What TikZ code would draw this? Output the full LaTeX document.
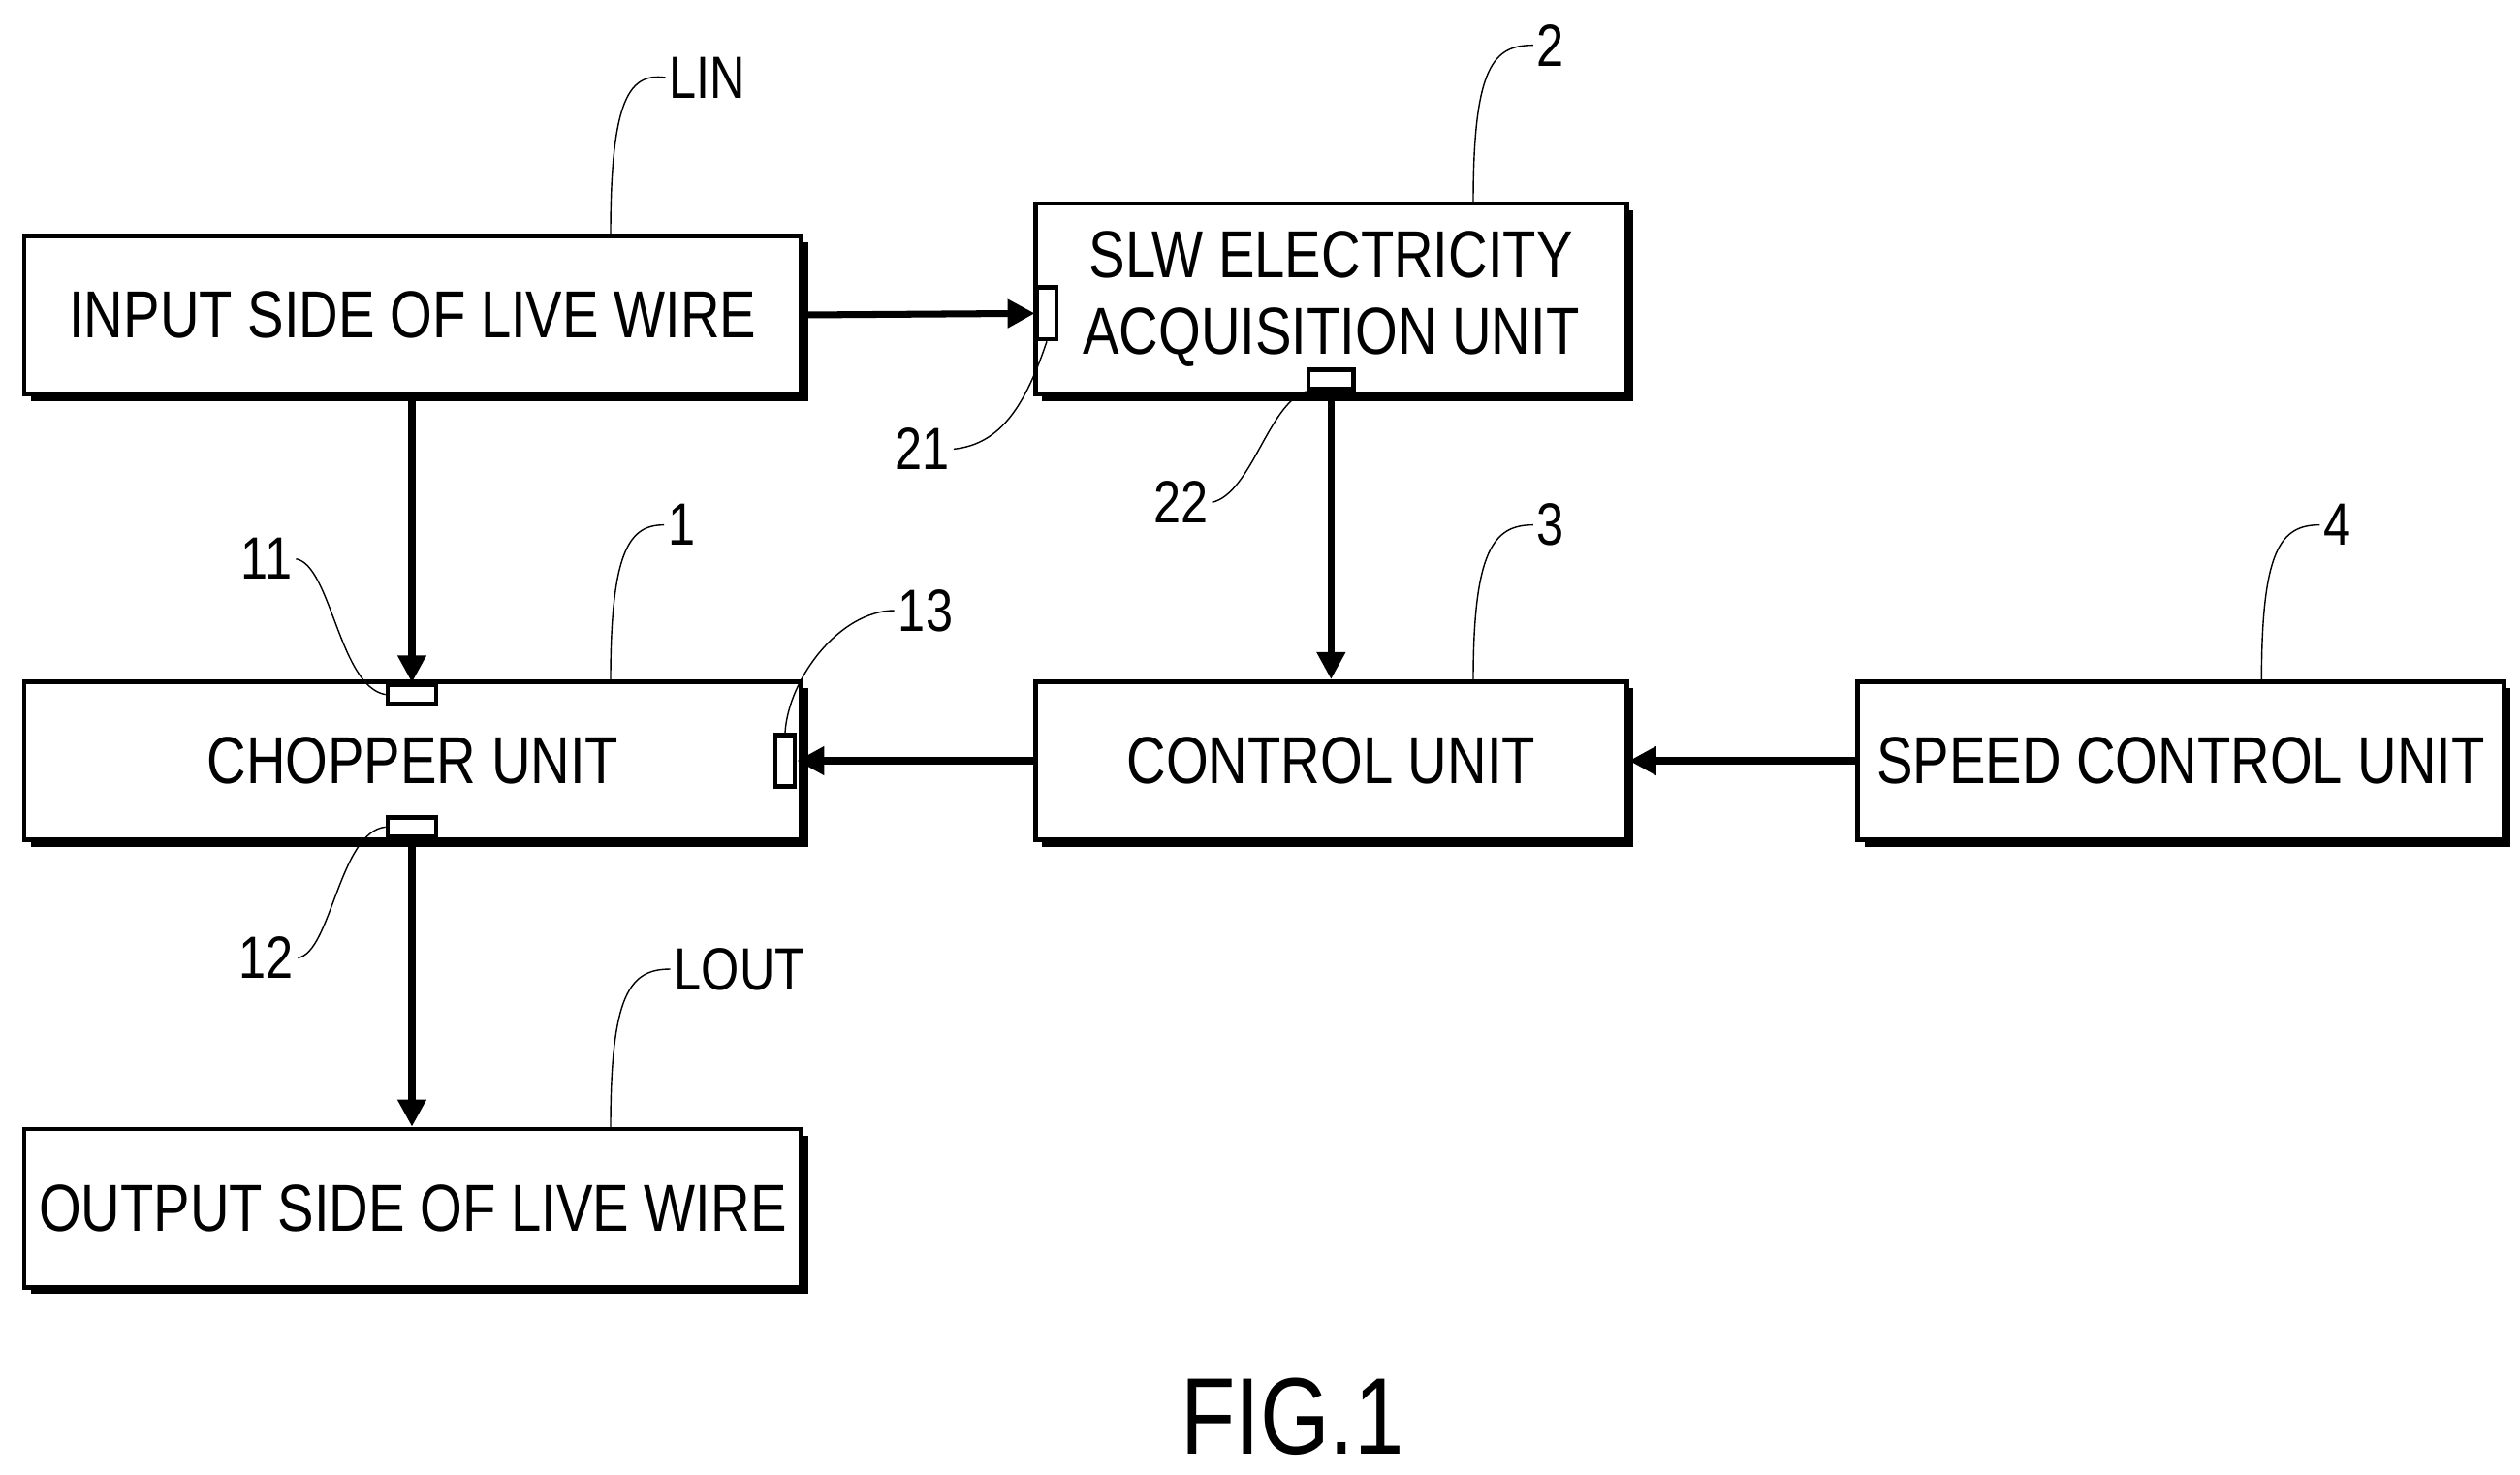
\documentclass[tikz,border=0pt]{standalone}
\usepackage{fontspec}
\setmainfont{Liberation Sans}[FakeStretch=0.82]
\usetikzlibrary{shadows,arrows.meta}

\tikzset{
  box/.style = {draw, line width = 1.3pt, fill = white, inner sep = 0pt,
    drop shadow = {shadow xshift = 2pt, shadow yshift = -2pt, fill = black, opacity = 1},
    font = \fontsize{19.5}{22.5}\selectfont, align = center},
  port/.style = {draw, line width = 1.3pt, fill = white, inner sep = 0pt},
  link/.style = {line width = 2pt, -{Triangle[length = 8pt, width = 8pt]}},
  lead/.style = {thin},
  tag/.style = {font = \fontsize{17.5}{20}\selectfont, inner sep = 1pt}
}

\begin{document}
\begin{tikzpicture}[x = 0.016667cm, y = -0.016667cm]
\useasboundingbox (0, 0) rectangle (1560, 913);
% blocks
\node [box, minimum width = 481*0.016667cm, minimum height = 98*0.016667cm] (in) at (255.5, 195) {INPUT SIDE OF LIVE WIRE};
\node [box, minimum width = 366*0.016667cm, minimum height = 118*0.016667cm] (slw) at (824, 185) {SLW ELECTRICITY\\ACQUISITION UNIT};
\node [box, minimum width = 481*0.016667cm, minimum height = 98*0.016667cm] (chop) at (255.5, 471) {CHOPPER UNIT};
\node [box, minimum width = 366*0.016667cm, minimum height = 98*0.016667cm] (ctrl) at (824, 471) {CONTROL UNIT};
\node [box, minimum width = 400*0.016667cm, minimum height = 98*0.016667cm] (speed) at (1350, 471) {SPEED CONTROL UNIT};
\node [box, minimum width = 481*0.016667cm, minimum height = 98*0.016667cm] (out) at (255.5, 748) {OUTPUT SIDE OF LIVE WIRE};
% ports
\node [port, minimum width = 12*0.016667cm, minimum height = 32*0.016667cm] (p21) at (648, 194) {};
\node [port, minimum width = 28*0.016667cm, minimum height = 12*0.016667cm] (p22) at (824, 235) {};
\node [port, minimum width = 30*0.016667cm, minimum height = 12*0.016667cm] (p11) at (255, 430) {};
\node [port, minimum width = 30*0.016667cm, minimum height = 12*0.016667cm] (p12) at (255, 512) {};
\node [port, minimum width = 12*0.016667cm, minimum height = 32*0.016667cm] (p13) at (486, 471) {};
% connectors
\draw [link] (in.east) -- (p21.west);
\draw [link] (in.south -| p11) -- (p11.north);
\draw [link] (p22.south) -- (ctrl.north -| p22);
\draw [link] (ctrl.west) -- (p13.east);
\draw [link] (speed.west) -- (ctrl.east);
\draw [link] (p12.south) -- (out.north -| p12);
% reference tags
\node [tag, anchor = west] (tlin) at (412, 48) {LIN};
\node [tag] (t2) at (960, 28) {2};
\node [tag] (t1) at (422, 325) {1};
\node [tag] (t3) at (960, 325) {3};
\node [tag] (t4) at (1447, 325) {4};
\node [tag, anchor = west] (tlout) at (415, 600) {LOUT};
\node [tag] (t21) at (571, 278) {21};
\node [tag] (t22) at (731, 311) {22};
\node [tag] (t11) at (165, 346) {11};
\node [tag] (t12) at (165, 593) {12};
\node [tag] (t13) at (573, 378) {13};
\draw [lead] (378, 145) .. controls (378, 60) and (390, 45) .. (tlin.west);
\draw [lead] (912, 125) .. controls (912, 40) and (925, 28) .. (t2.west);
\draw [lead] (378, 421) .. controls (378, 340) and (390, 325) .. (t1.west);
\draw [lead] (912, 421) .. controls (912, 340) and (925, 325) .. (t3.west);
\draw [lead] (1400, 421) .. controls (1400, 340) and (1412, 325) .. (t4.west);
\draw [lead] (378, 698) .. controls (378, 615) and (390, 600) .. (tlout.west);
\draw [lead] (p21.south) .. controls (635, 250) and (620, 275) .. (t21.east);
\draw [lead] (p22.south west) .. controls (785, 250) and (775, 305) .. (t22.east);
\draw [lead] (p11.west) .. controls (210, 425) and (205, 350) .. (t11.east);
\draw [lead] (p12.west) .. controls (210, 515) and (205, 590) .. (t12.east);
\draw [lead] (p13.north) .. controls (488, 420) and (520, 378) .. (t13.west);
% caption
\node [font = \fontsize{32}{38}\selectfont] (fig) at (800, 877) {FIG.1};
\end{tikzpicture}
\end{document}
